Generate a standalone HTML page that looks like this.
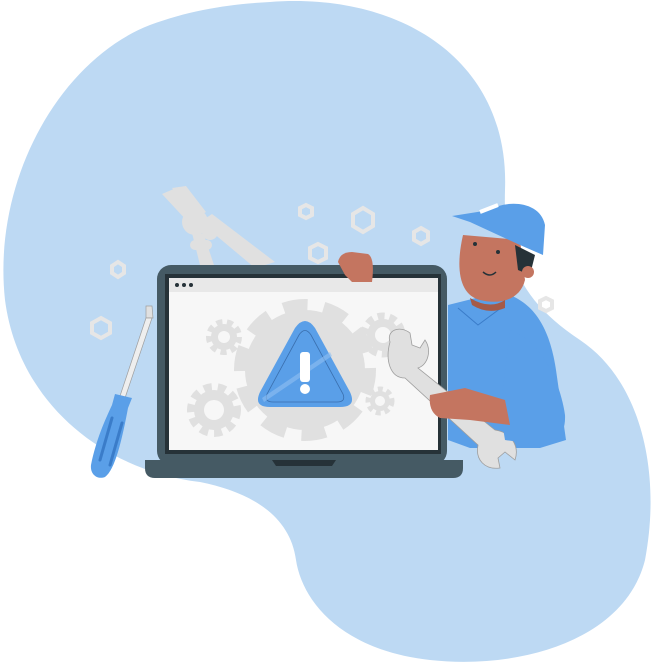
<!DOCTYPE html>
<html><head><style>html,body{margin:0;padding:0;background:#fff}svg{display:block}</style></head><body>
<svg width="654" height="663" viewBox="0 0 654 663" xmlns="http://www.w3.org/2000/svg">
<path d="M270 2 C400 -8 510 60 505 190 C503 260 520 300 580 340 C640 380 662 470 645 560 C625 640 520 670 430 660 C340 650 302 600 296 560 C290 515 250 492 200 482 C100 470 18 400 5 300 C-8 180 60 60 150 25 C190 10 230 4 270 2 Z" fill="#bdd9f3"/>
<g fill="none" stroke="#e6e6e6" stroke-width="4">
<polygon points="118,262 124,266 124,273 118,277 112,273 112,266"/>
<polygon points="101,318 110,323 110,333 101,338 92,333 92,323"/>
<polygon points="306,205 312,208 312,215 306,218 300,215 300,208"/>
<polygon points="363,208 373,214 373,226 363,232 353,226 353,214"/>
<polygon points="421,228 428,232 428,240 421,244 414,240 414,232"/>
<polygon points="318,244 326,248 326,258 318,262 310,258 310,248"/>
<polygon points="546,298 552,301 552,308 546,311 540,308 540,301"/>
</g>
<g fill="#e0e0e0">
<polygon points="162,194 176,188 198,214 188,222"/>
<polygon points="172,188 186,186 206,212 196,218"/>
<circle cx="195" cy="222" r="13"/>
<polygon points="200,222 212,214 275,262 255,268"/>
<polygon points="190,225 204,235 214,265 200,265"/>
<circle cx="210" cy="232" r="8"/>
<rect x="190" y="240" width="22" height="10" rx="5"/>
</g>
<polygon points="146,306 152,306 153,318 146,318" fill="#e0e0e0" stroke="#9e9e9e" stroke-width="0.7"/>
<polygon points="146,318 152,318 125,398 120,396" fill="#eeeeee" stroke="#9e9e9e" stroke-width="0.7"/>
<path d="M115 394 L132 398 L128 408 C122 440 115 470 105 477 C97 480 90 474 91 465 C96 440 105 420 112 405 Z" fill="#5a9fe8"/>
<g stroke="#3a7cc9" stroke-width="3" stroke-linecap="round"><line x1="112" y1="418" x2="100" y2="460"/><line x1="122" y1="423" x2="110" y2="465"/></g>
<!-- man body behind laptop -->
<path d="M448 305 L500 292 C535 300 550 330 556 370 L566 440 L540 448 L470 448 L448 440 Z" fill="#5a9fe8"/>
<path d="M458 308 L478 325 L505 305" fill="none" stroke="#3a7cc9" stroke-width="1"/>
<rect x="157" y="265" width="290" height="200" rx="14" fill="#455a64"/>
<rect x="165" y="274" width="276" height="180" fill="#263238"/>
<rect x="169" y="278" width="269" height="172" fill="#f7f7f7"/>
<rect x="169" y="278" width="269" height="14" fill="#e8e8e8"/>
<g fill="#263238"><circle cx="177" cy="285" r="2"/><circle cx="184" cy="285" r="2"/><circle cx="191" cy="285" r="2"/></g>
<path d="M145 460 L463 460 L463 468 Q463 478 453 478 L155 478 Q145 478 145 468 Z" fill="#455a64"/>
<path d="M272 460 L336 460 L332 466 L276 466 Z" fill="#263238"/>
<g fill="#e0e0e0">
<circle cx="305" cy="370" r="60"/>
<circle cx="305" cy="370" r="64" fill="none" stroke="#e0e0e0" stroke-width="14" stroke-dasharray="24 16"/>
<circle cx="224" cy="337" r="13"/><circle cx="224" cy="337" r="15" fill="none" stroke="#e0e0e0" stroke-width="6" stroke-dasharray="6 4.5"/>
<circle cx="214" cy="410" r="20"/><circle cx="214" cy="410" r="23" fill="none" stroke="#e0e0e0" stroke-width="8" stroke-dasharray="8 6"/>
<circle cx="383" cy="335" r="16"/><circle cx="383" cy="335" r="19" fill="none" stroke="#e0e0e0" stroke-width="7" stroke-dasharray="7 5"/>
<circle cx="380" cy="401" r="10"/><circle cx="380" cy="401" r="12" fill="none" stroke="#e0e0e0" stroke-width="5" stroke-dasharray="5 4"/>
</g>
<g fill="#f7f7f7"><circle cx="224" cy="337" r="6"/><circle cx="214" cy="410" r="10"/><circle cx="383" cy="335" r="8"/><circle cx="380" cy="401" r="5"/></g>
<path d="M295 328 Q305 314 315 328 L350 392 Q357 407 340 407 L270 407 Q253 407 260 392 Z" fill="#5a9fe8"/>
<path d="M299 335 Q305 326 311 335 L343 394 Q346 402 337 402 L273 402 Q264 402 267 394 Z" fill="none" stroke="#3a6fae" stroke-width="0.8"/>
<polygon points="262,398 330,352 332,356 264,402" fill="#8fc0f2" opacity="0.6"/>
<rect x="300" y="352" width="10" height="30" rx="3" fill="#fff"/>
<circle cx="305" cy="389" r="5" fill="#fff"/>
<!-- head -->
<path d="M463 235 L520 240 L525 280 C520 300 500 305 480 300 C460 295 455 270 463 235 Z" fill="#c47560"/>
<path d="M470 298 Q490 310 505 300 L505 308 Q488 315 472 305 Z" fill="#a55a48"/>
<path d="M515 245 L535 255 L530 275 L518 270 Z" fill="#263238"/>
<circle cx="528" cy="272" r="6" fill="#c47560"/>
<circle cx="475" cy="244" r="2" fill="#263238"/><circle cx="498" cy="252" r="2" fill="#263238"/>
<path d="M483 272 Q490 278 496 272" stroke="#263238" stroke-width="1.5" fill="none"/>
<path d="M452 216 L490 210 C505 200 540 200 545 225 L543 255 L520 245 L470 222 Z" fill="#5a9fe8"/>
<path d="M480 212 L498 205" stroke="#fff" stroke-width="4"/>
<path d="M338 262 Q340 252 352 252 L368 254 Q375 258 372 282 L352 282 L345 275 Z" fill="#c47560"/>
<g fill="#e0e0e0" stroke="#9e9e9e" stroke-width="0.8">
<path d="M390 342 C386 330 400 325 410 333 L412 345 L420 348 L425 340 C432 350 428 365 418 368 L495 430 C510 432 520 445 515 460 L505 452 L498 458 L500 468 C485 470 475 460 478 445 L405 378 C390 378 385 360 390 342 Z"/>
</g>
<!-- arm/sleeve -->
<path d="M510 330 C540 340 560 380 565 415 C566 435 555 445 540 445 L505 440 L500 410 Z" fill="#5a9fe8"/>
<path d="M430 395 L465 388 L505 400 L510 425 L470 420 L440 418 Q428 412 430 395 Z" fill="#c47560"/>
</svg>
</body></html>
